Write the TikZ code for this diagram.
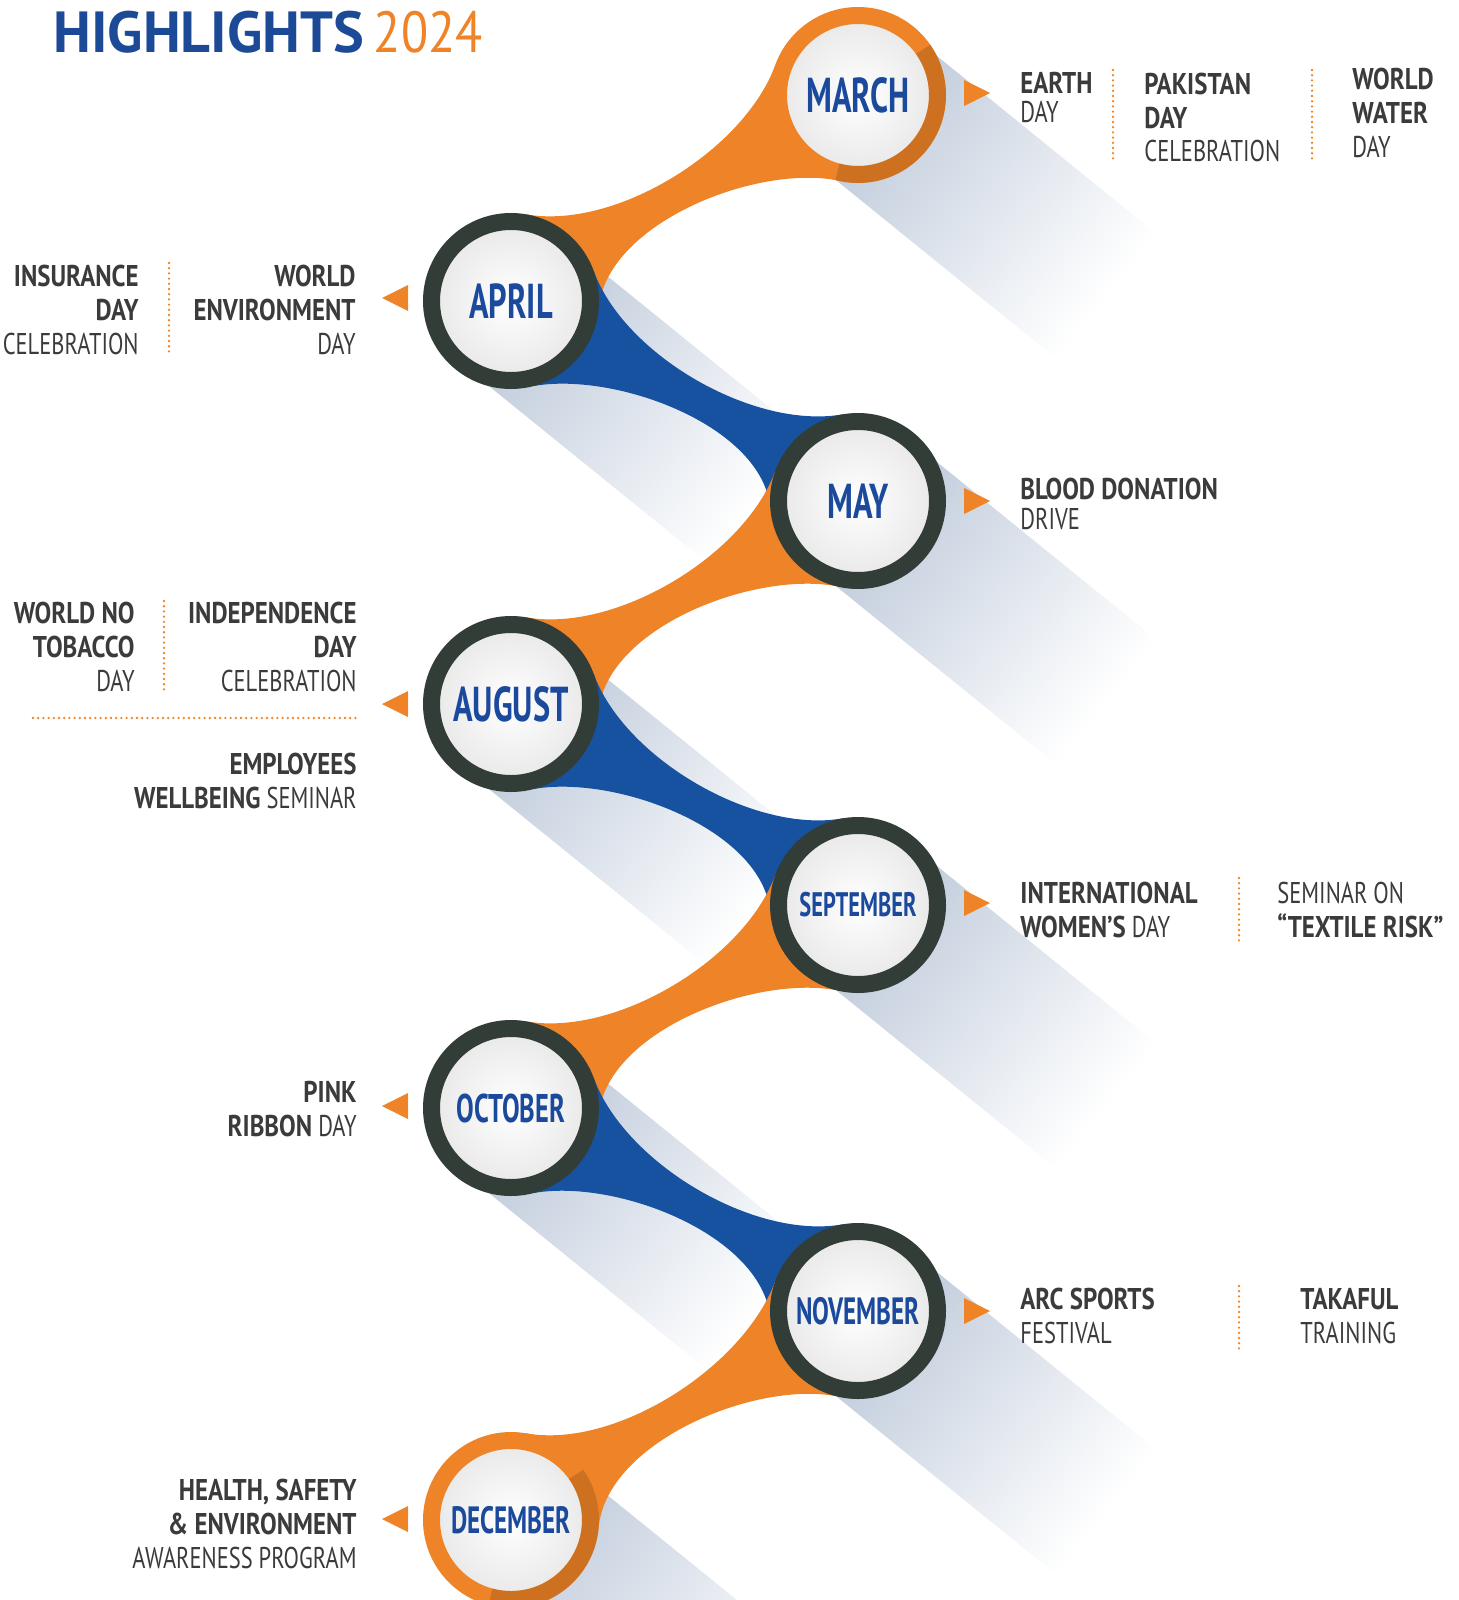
\documentclass[tikz,border=0pt]{standalone}
\usepackage{fontspec}
\setmainfont{PT Sans}
\newfontfamily\condfont[FakeStretch=0.75]{PT Sans}
\newfontfamily\condbold[FakeStretch=0.83]{PT Sans Bold}
\newfontfamily\monthfont[FakeStretch=0.66]{PT Sans}
\newfontfamily\titlefont{PT Sans}
\newfontfamily\yearfont[FakeStretch=0.86]{PT Sans}
\newcommand\hb[1]{{\condbold #1}}
\usetikzlibrary{calc}
\definecolor{hlorange}{HTML}{EE8427}
\definecolor{hlblue}{HTML}{1652A0}
\definecolor{ringdark}{HTML}{333D37}
\definecolor{monthblue}{HTML}{1B4A9C}
\definecolor{titleblue}{HTML}{1D4A97}
\definecolor{evtext}{HTML}{3B3B3B}
\definecolor{shadowc}{HTML}{BCC8D9}
\pgfdeclarelayer{shadows}
\pgfdeclarelayer{bands}
\pgfsetlayers{shadows,bands,main}

\begin{document}
\begin{tikzpicture}[x=0.5pt,y=0.5pt,
  month/.style={circle,minimum size=79.5pt,inner sep=0pt,line width=8.5pt,draw=ringdark,
    inner color=white,outer color=black!9,text=monthblue,
    font=\monthfont\bfseries\fontsize{24.5}{26}\selectfont},
  evt/.style={inner sep=0pt,text=evtext,font=\condfont\fontsize{15}{16.8}\selectfont},
  evl/.style={evt,anchor=base west,align=left},
  evr/.style={evt,anchor=base east,align=right},
  sep/.style={hlorange,line width=1.3pt,line cap=round,dash pattern=on 0pt off 2.6pt},
  band/.style={looseness=0.8}]
\useasboundingbox (0,0) rectangle (1459,-1600);

% title
\node[anchor=base west,inner sep=0pt,font=\titlefont\fontsize{29}{30}\selectfont] (title) at (53,-53)
  {\textcolor{titleblue}{\bfseries HIGHLIGHTS}\hspace{5pt}\textcolor{hlorange}{\yearfont 2024}};

% months
\node[month,draw=hlorange] (mar) at (858,-95) {MARCH};
\node[month] (apr) at (511,-301) {APRIL};
\node[month] (may) at (858,-501) {MAY};
\node[month] (aug) at (511,-704) {AUGUST};
\node[month,font=\monthfont\bfseries\fontsize{17}{18}\selectfont] (sep) at (858,-905) {SEPTEMBER};
\node[month,font=\monthfont\bfseries\fontsize{20}{21}\selectfont] (oct) at (511,-1108) {OCTOBER};
\node[month,font=\monthfont\bfseries\fontsize{19}{20}\selectfont] (nov) at (858,-1311) {NOVEMBER};
\node[month,draw=hlorange,font=\monthfont\bfseries\fontsize{19}{20}\selectfont] (dec) at (511,-1520) {DECEMBER};
\draw[hlorange!70!black,opacity=.45,line width=8.5pt] (mar.center) ++(-105:79.5) arc[start angle=-105,end angle=35,radius=79.5];
\draw[hlorange!70!black,opacity=.45,line width=8.5pt] (dec.center) ++(-105:79.5) arc[start angle=-105,end angle=35,radius=79.5];

% shadows
\begin{pgfonlayer}{shadows}
\foreach \m in {mar,apr,may,aug,sep,oct,nov,dec}{
  \begin{scope}[transform canvas={shift={(\m.center)},rotate=-39}]
    \shade[left color=shadowc,right color=white] (0,-80) rectangle (320,80);
  \end{scope}
}
\end{pgfonlayer}

% bands
\begin{pgfonlayer}{bands}
\fill[hlorange,band] (mar.160) to[out=250,in=350] (apr.80) -- (apr.center) -- (apr.-5) to[out=85,in=170] (mar.255) -- (mar.center) -- cycle;
\fill[hlblue,band] (apr.20) to[out=290,in=190] (may.100) -- (may.center) -- (may.185) to[out=95,in=10] (apr.285) -- (apr.center) -- cycle;
\fill[hlorange,band] (may.160) to[out=250,in=350] (aug.80) -- (aug.center) -- (aug.-5) to[out=85,in=170] (may.255) -- (may.center) -- cycle;
\fill[hlblue,band] (aug.20) to[out=290,in=190] (sep.100) -- (sep.center) -- (sep.185) to[out=95,in=10] (aug.285) -- (aug.center) -- cycle;
\fill[hlorange,band] (sep.160) to[out=250,in=350] (oct.80) -- (oct.center) -- (oct.-5) to[out=85,in=170] (sep.255) -- (sep.center) -- cycle;
\fill[hlblue,band] (oct.20) to[out=290,in=190] (nov.100) -- (nov.center) -- (nov.185) to[out=95,in=10] (oct.285) -- (oct.center) -- cycle;
\fill[hlorange,band] (nov.160) to[out=250,in=350] (dec.80) -- (dec.center) -- (dec.-5) to[out=85,in=170] (nov.255) -- (nov.center) -- cycle;
\end{pgfonlayer}

% pointers
\foreach \y in {-93,-501,-903,-1311}
  \fill[hlorange] (990,\y) -- (964,\y+13) -- (964,\y-13) -- cycle;
\foreach \y in {-298,-704,-1106,-1519}
  \fill[hlorange] (382,\y) -- (408,\y+13) -- (408,\y-13) -- cycle;

% march (base = last line)
\node[evl,font=\condfont\fontsize{15}{14.8}\selectfont] (earth) at (1020,-123) {\hb{EARTH}\\DAY};
\node[evl] (pakistan) at (1144,-162) {\hb{PAKISTAN}\\\hb{DAY}\\CELEBRATION};
\node[evl] (water) at (1352,-157) {\hb{WORLD}\\\hb{WATER}\\DAY};
\draw[sep] (1113,-70) -- (1113,-162);
\draw[sep] (1312,-70) -- (1312,-162);

% april
\node[evr] (environment) at (356,-354) {\hb{WORLD}\\\hb{ENVIRONMENT}\\DAY};
\node[evr] (insurance) at (139,-354) {\hb{INSURANCE}\\\hb{DAY}\\CELEBRATION};
\draw[sep] (169,-263) -- (169,-355);

% may
\node[evl,font=\condfont\fontsize{15}{14.8}\selectfont] (blood) at (1020,-529) {\hb{BLOOD DONATION}\\DRIVE};

% august
\node[evr] (independence) at (357,-691) {\hb{INDEPENDENCE}\\\hb{DAY}\\CELEBRATION};
\node[evr] (tobacco) at (135,-691) {\hb{WORLD NO}\\\hb{TOBACCO}\\DAY};
\draw[sep] (164,-601) -- (164,-691);
\draw[sep] (33,-718) -- (358,-718);
\node[evr] (wellbeing) at (357,-808) {\hb{EMPLOYEES}\\\hb{WELLBEING} SEMINAR};

% september
\node[evl] (womens) at (1020,-937) {\hb{INTERNATIONAL}\\\hb{WOMEN’S} DAY};
\node[evl] (textile) at (1277,-937) {SEMINAR ON\\\hb{“TEXTILE RISK”}};
\draw[sep] (1239,-878) -- (1239,-942);

% october
\node[evr] (ribbon) at (357,-1136) {\hb{PINK}\\\hb{RIBBON} DAY};

% november
\node[evl] (sports) at (1020,-1343) {\hb{ARC SPORTS}\\FESTIVAL};
\node[evl] (takaful) at (1300,-1343) {\hb{TAKAFUL}\\TRAINING};
\draw[sep] (1239,-1286) -- (1239,-1349);

% december
\node[evr] (hse) at (357,-1568) {\hb{HEALTH, SAFETY}\\\hb{\& ENVIRONMENT}\\AWARENESS PROGRAM};
\end{tikzpicture}
\end{document}
